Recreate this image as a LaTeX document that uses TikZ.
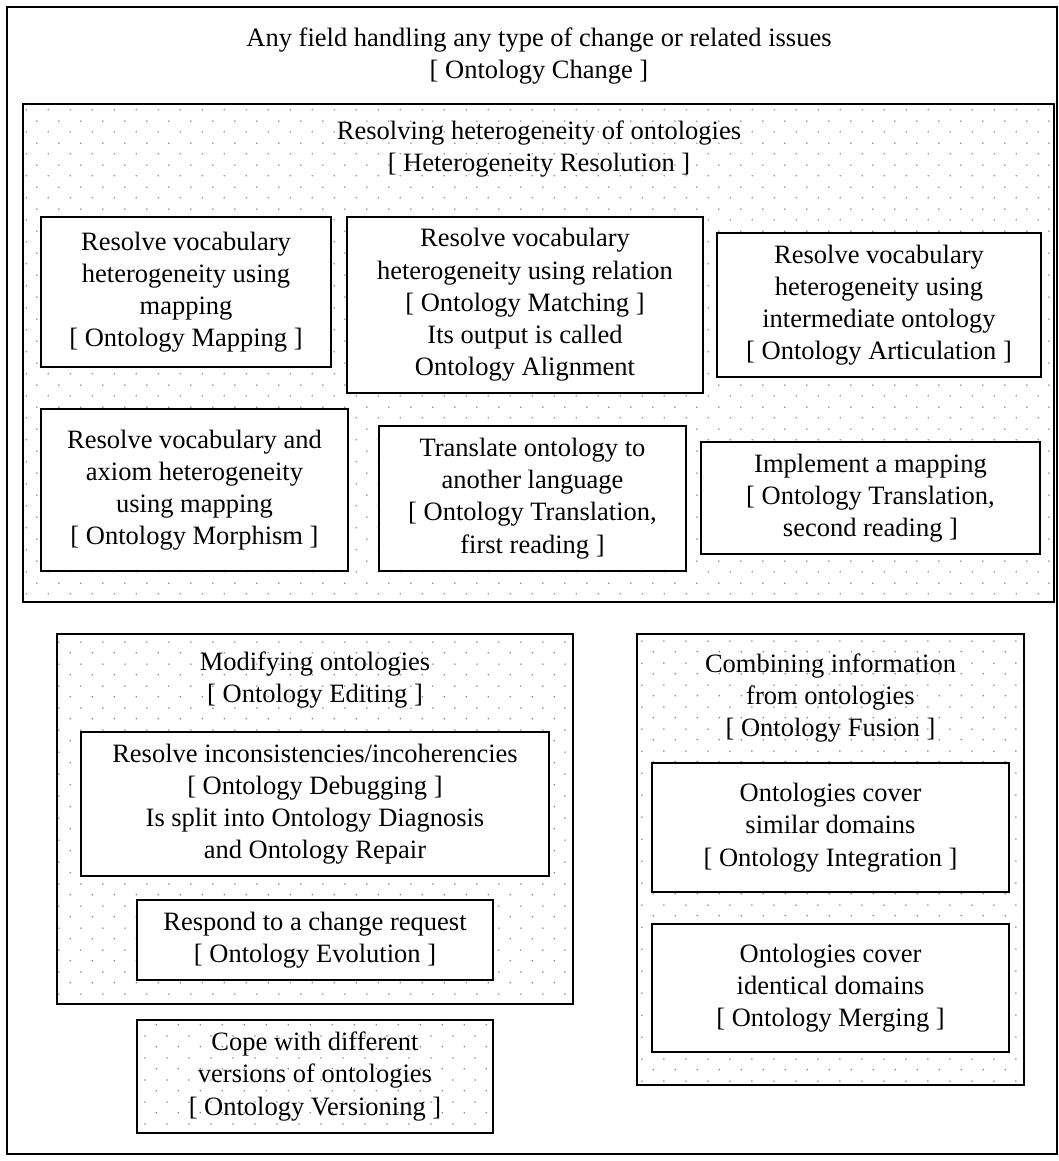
\documentclass[tikz,border=0pt]{standalone}
\usepackage{fontspec}
\setmainfont{Liberation Serif}
\usetikzlibrary{patterns, positioning}
\usepackage{xcolor}
\definecolor{DotGray}{gray}{0.55}
\newcommand{\boxfont}{\fontsize{26.5}{32.2}\selectfont}
\pgfdeclarepatternformonly{sparsedots}{\pgfpointorigin}{\pgfpoint{21.6pt}{21.6pt}}%
  {\pgfpoint{21.6pt}{21.6pt}}{%
  \pgfpathcircle{\pgfpoint{5.4pt}{5.4pt}}{0.9pt}%
  \pgfpathcircle{\pgfpoint{16.2pt}{16.2pt}}{0.9pt}%
  \pgfusepath{fill}%
}
\tikzset{%
  frame_box/.style={%
    rectangle,%
    draw=black,%
    line width=2.4pt,%
    inner sep=0pt,%
  },
  group_box/.style={%
    frame_box,%
    pattern=sparsedots,%
    pattern color=DotGray,%
  },
  leaf_box/.style={%
    frame_box,%
    fill=white,%
    align=center,%
    font={\boxfont},%
  },
  group_title/.style={%
    align=center,%
    font={\boxfont},%
  },
}

\begin{document}
\begin{tikzpicture}[x=1pt, y=-1pt]
  \useasboundingbox (0,0) rectangle (1058,1161);

  \node [frame_box, minimum width=1050, minimum height=1147] (Change) at (532,580.5) {};
  \node [group_title] (ChangeTitle) at (539,56) {%
    Any field handling any type of change or related issues\\{}[ Ontology Change ]%
  };

  \node [group_box, minimum width=1031, minimum height=498] (Heterogeneity) at (538.5,353) {};
  \node [group_title] (HeterogeneityTitle) at (539,149) {%
    Resolving heterogeneity of ontologies\\{}[ Heterogeneity Resolution ]%
  };
  \node [leaf_box, minimum width=290, minimum height=150] (Mapping) at (186,292) {%
    Resolve vocabulary\\heterogeneity using\\mapping\\{}[ Ontology Mapping ]%
  };
  \node [leaf_box, minimum width=356, minimum height=176] (Matching) at (525,305) {%
    Resolve vocabulary\\heterogeneity using relation\\{}[ Ontology Matching ]\\%
    Its output is called\\Ontology Alignment%
  };
  \node [leaf_box, minimum width=324, minimum height=144] (Articulation) at (879,305) {%
    Resolve vocabulary\\heterogeneity using\\intermediate ontology\\{}[ Ontology Articulation ]%
  };
  \node [leaf_box, minimum width=307, minimum height=162] (Morphism) at (194.5,490) {%
    Resolve vocabulary and\\axiom heterogeneity\\using mapping\\{}[ Ontology Morphism ]%
  };
  \node [leaf_box, minimum width=307, minimum height=145] (TranslationFirst) at (532.5,498.5) {%
    Translate ontology to\\another language\\{}[ Ontology Translation,\\first reading ]%
  };
  \node [leaf_box, minimum width=339, minimum height=112] (TranslationSecond) at (870.5,498) {%
    Implement a mapping\\{}[ Ontology Translation,\\second reading ]%
  };

  \node [group_box, minimum width=516, minimum height=370] (Editing) at (315,819) {};
  \node [group_title] (EditingTitle) at (315,680) {%
    Modifying ontologies\\{}[ Ontology Editing ]%
  };
  \node [leaf_box, minimum width=468, minimum height=144] (Debugging) at (315,804) {%
    Resolve inconsistencies/incoherencies\\{}[ Ontology Debugging ]\\%
    Is split into Ontology Diagnosis\\and Ontology Repair%
  };
  \node [leaf_box, minimum width=356, minimum height=80] (Evolution) at (315,940) {%
    Respond to a change request\\{}[ Ontology Evolution ]%
  };

  \node [group_box, group_title, minimum width=356, minimum height=113] (Versioning) at (315,1076.5) {%
    Cope with different\\versions of ontologies\\{}[ Ontology Versioning ]%
  };

  \node [group_box, minimum width=387, minimum height=451] (Fusion) at (830.5,859.5) {};
  \node [group_title] (FusionTitle) at (830.5,698) {%
    Combining information\\from ontologies\\{}[ Ontology Fusion ]%
  };
  \node [leaf_box, minimum width=357, minimum height=129] (Integration) at (830.5,827.5) {%
    Ontologies cover\\similar domains\\{}[ Ontology Integration ]%
  };
  \node [leaf_box, minimum width=357, minimum height=128] (Merging) at (830.5,988) {%
    Ontologies cover\\identical domains\\{}[ Ontology Merging ]%
  };
\end{tikzpicture}
\end{document}
